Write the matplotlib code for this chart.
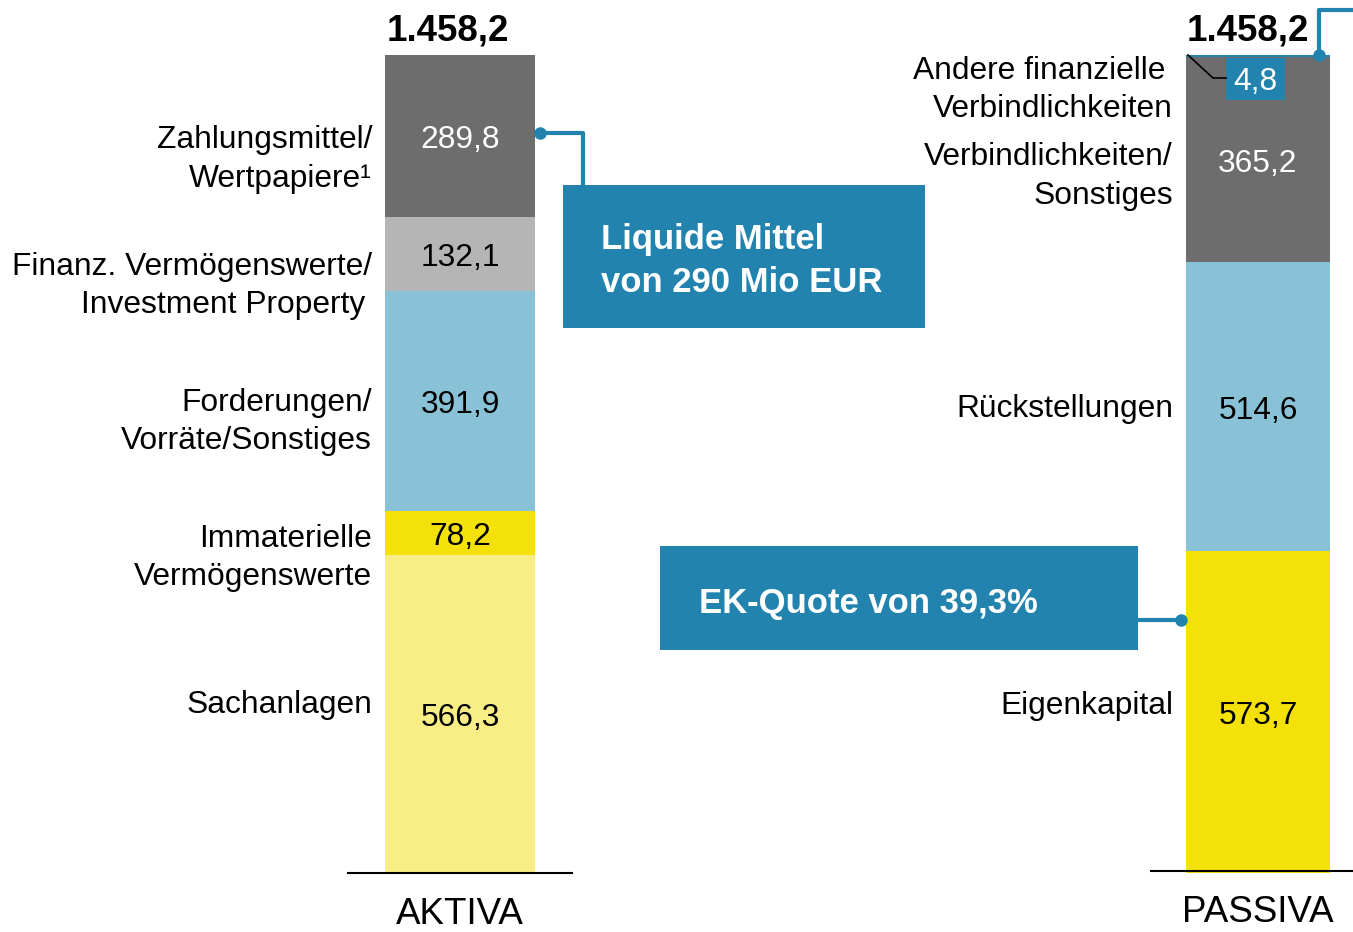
import matplotlib
matplotlib.use("Agg")
import matplotlib.pyplot as plt
from matplotlib.patches import Rectangle

plt.rcParams['font.family'] = ['Liberation Sans', 'DejaVu Sans']

# data
aktiva_labels = ['Sachanlagen', 'Immaterielle Vermögenswerte', 'Forderungen/Vorräte/Sonstiges',
                 'Finanz. Vermögenswerte/Investment Property', 'Zahlungsmittel/Wertpapiere']
aktiva_values = [566.3, 78.2, 391.9, 132.1, 289.8]
aktiva_text = ['566,3', '78,2', '391,9', '132,1', '289,8']
passiva_labels = ['Eigenkapital', 'Rückstellungen', 'Verbindlichkeiten/Sonstiges',
                  'Andere finanzielle Verbindlichkeiten']
passiva_values = [573.7, 514.6, 365.2, 4.8]
passiva_text = ['573,7', '514,6', '365,2', '4,8']
total_text = '1.458,2'

DARK = '#6d6d6d'
LGRAY = '#b5b5b5'
LBLUE = '#89c2d6'
YELLOW = '#f4e10a'
LYELLOW = '#f9ee86'
TEAL = '#2183ae'

aktiva_colors = [LYELLOW, YELLOW, LBLUE, LGRAY, DARK]
aktiva_tcol = ['black', 'black', 'black', 'black', 'white']
passiva_colors = [YELLOW, LBLUE, DARK, TEAL]
passiva_tcol = ['black', 'black', 'white', 'white']

W, H = 1353, 932
BASE = 873          # pixel row of value 0
SCALE = 0.5612      # pixels per unit

fig = plt.figure(figsize=(W / 100, H / 100), dpi=100)
ax = fig.add_axes([0, 0, 1, 1])
ax.set_xlim(0, W)
ax.set_ylim(-(H - BASE) / SCALE, BASE / SCALE)
ax.axis('off')


def py(y):
    # pixel row -> value units
    return (BASE - y) / SCALE


FS = 22.9
DY = 4 / SCALE   # small downward shift for centred text

# bars
xa, wa = 460, 150
xp, wp = 1258, 144
bottom = 0
for v, c, t, tc in zip(aktiva_values, aktiva_colors, aktiva_text, aktiva_tcol):
    ax.bar(xa, v, width=wa, bottom=bottom, color=c, linewidth=0)
    ax.text(xa, bottom + v / 2 - DY, t, ha='center', va='center', fontsize=FS, color=tc)
    bottom += v
top_a = bottom

bottom = 0
for i, (v, c, t, tc) in enumerate(zip(passiva_values, passiva_colors, passiva_text, passiva_tcol)):
    ax.bar(xp, v, width=wp, bottom=bottom, color=c, linewidth=0)
    if i < 3:
        ax.text(xp, bottom + v / 2 - DY, t, ha='center', va='center', fontsize=FS, color=tc)
    bottom += v
top_p = bottom

# baselines
ax.plot([348, 572], [0, 0], color='black', lw=1.5)
ax.plot([1151, 1353], [py(871), py(871)], color='black', lw=1.5)

# totals
ax.text(448, py(31), total_text, ha='center', va='center', fontsize=26.5, fontweight='bold')
ax.text(1248, py(31), total_text, ha='center', va='center', fontsize=26.5, fontweight='bold')

# category names
ax.text(460, py(914), 'AKTIVA', ha='center', va='center', fontsize=26.5)
ax.text(1258, py(913), 'PASSIVA', ha='center', va='center', fontsize=26.5)

# left labels aktiva
for txt, y, x in [('Zahlungsmittel/', 137, 372), ('Wertpapiere¹', 176, 372),
                  ('Finanz. Vermögenswerte/', 264, 372), ('Investment Property', 302, 365),
                  ('Forderungen/', 400, 372), ('Vorräte/Sonstiges', 438, 372),
                  ('Immaterielle', 536, 372), ('Vermögenswerte', 574, 372),
                  ('Sachanlagen', 702, 372)]:
    ax.text(x, py(y + 3), txt, ha='right', va='center', fontsize=FS)

# left labels passiva
for txt, y, x in [('Andere finanzielle', 68, 1165), ('Verbindlichkeiten', 106, 1173),
                  ('Verbindlichkeiten/', 154, 1173), ('Sonstiges', 193, 1173),
                  ('Rückstellungen', 406, 1173), ('Eigenkapital', 703, 1173)]:
    ax.text(x, py(y + 3), txt, ha='right', va='center', fontsize=FS)

# 4,8 label box with leader
ax.add_patch(Rectangle((1226, py(100)), 59, py(58) - py(100), color=TEAL, lw=0))
ax.text(1255.5, py(82), passiva_text[3], ha='center', va='center', fontsize=FS, color='white')
ax.plot([1188, 1213, 1226], [py(55), py(78), py(78)], color='black', lw=1.2)

# callout boxes
ax.add_patch(Rectangle((563, py(328)), 362, py(185) - py(328), color=TEAL, lw=0))
ax.text(601, py(240), 'Liquide Mittel', ha='left', va='center', fontsize=24.9,
        fontweight='bold', color='white')
ax.text(601, py(282), 'von 290 Mio EUR', ha='left', va='center', fontsize=24.9,
        fontweight='bold', color='white')
ax.add_patch(Rectangle((660, py(650)), 478, py(546) - py(650), color=TEAL, lw=0))
ax.text(699, py(603), 'EK-Quote von 39,3%', ha='left', va='center', fontsize=24.9,
        fontweight='bold', color='white')

# connectors
kw = dict(color=TEAL, lw=3, solid_joinstyle='round', solid_capstyle='butt')
ax.plot([540, 583, 583], [py(133), py(133), py(186)], **kw)
ax.plot([540], [py(133)], 'o', color=TEAL, ms=8)
ax.plot([1138, 1181], [py(620), py(620)], **kw)
ax.plot([1181], [py(620)], 'o', color=TEAL, ms=8)
ax.plot([1319, 1319, 1360], [top_p, py(10), py(10)], **kw)
ax.plot([1319], [top_p], 'o', color=TEAL, ms=8)

fig.savefig('out.png', dpi=100)
